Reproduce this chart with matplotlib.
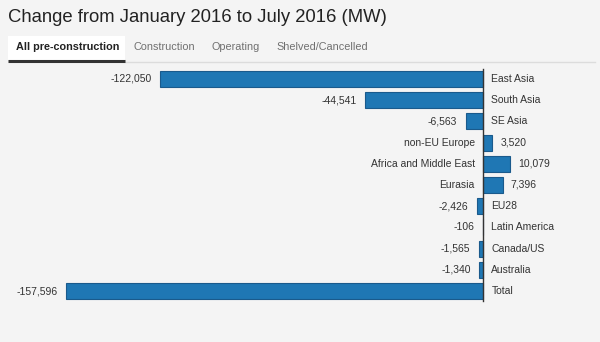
import matplotlib
matplotlib.use("Agg")
import matplotlib.pyplot as plt
from matplotlib.patches import Rectangle

categories = ["East Asia", "South Asia", "SE Asia", "non-EU Europe",
              "Africa and Middle East", "Eurasia", "EU28", "Latin America",
              "Canada/US", "Australia", "Total"]
values = [-122050, -44541, -6563, 3520, 10079, 7396, -2426, -106, -1565, -1340, -157596]
title = "Change from January 2016 to July 2016 (MW)"
tabs = ["All pre-construction", "Construction", "Operating", "Shelved/Cancelled"]

W, H = 600, 342
BG = "#f4f4f4"
fig = plt.figure(figsize=(W / 100, H / 100), dpi=100, facecolor=BG)
plt.rcParams['font.family'] = ['Liberation Sans', 'DejaVu Sans']

# layout in pixels
zero_px = 483
min_px = 66
first_y = 79
step = 21.2

ax = fig.add_axes([0, 0, 1, 1])
ax.set_facecolor("none")
vmin = min(values)
scale = (zero_px - min_px) / abs(vmin)  # px per unit
ax.set_xlim(-zero_px / scale, (W - zero_px) / scale)
ax.set_ylim((H - first_y) / step, -first_y / step)
ax.axis("off")

ypos = list(range(len(categories)))
ax.barh(ypos, values, height=0.76, color="#1f77b4", edgecolor="#1a5a8c", linewidth=0.8, zorder=2)
ax.plot([0, 0], [-0.45, len(categories) - 1 + 0.45], color="#333333", lw=1, zorder=3)

fs = 7.5
tc = "#333333"
for y, cat, v in zip(ypos, categories, values):
    lab = f"{v:,}"
    if v < 0:
        ax.annotate(lab, (v, y), xytext=(-6, 0), textcoords="offset points",
                    ha="right", va="center", fontsize=fs, color=tc)
        ax.annotate(cat, (0, y), xytext=(6, 0), textcoords="offset points",
                    ha="left", va="center", fontsize=fs, color=tc)
    else:
        ax.annotate(cat, (0, y), xytext=(-6, 0), textcoords="offset points",
                    ha="right", va="center", fontsize=fs, color=tc)
        ax.annotate(lab, (v, y), xytext=(6, 0), textcoords="offset points",
                    ha="left", va="center", fontsize=fs, color=tc)

def fx(px):
    return px / W

def fy(py):
    return 1 - py / H

# title
fig.text(fx(8), fy(21.5), title, fontsize=13.35, color="#222222", ha="left", va="baseline")

# tabs
fig.patches.append(Rectangle((fx(8), fy(60)), fx(117), 24 / H, transform=fig.transFigure,
                             facecolor="white", edgecolor="none", zorder=0))
fig.add_artist(plt.Line2D([fx(125), fx(595)], [fy(62), fy(62)], color="#dcdcdc", lw=1,
                          transform=fig.transFigure))
fig.add_artist(plt.Line2D([fx(8), fx(125)], [fy(60.5), fy(60.5)], color="#333333", lw=2.2,
                          transform=fig.transFigure, solid_capstyle="butt"))
tab_x = [16, 134, 212, 276]
for i, (t, x) in enumerate(zip(tabs, tab_x)):
    fig.text(fx(x), fy(47), t, fontsize=7.8, ha="left", va="center",
             color="#222222" if i == 0 else "#707070",
             fontweight="bold" if i == 0 else "normal")

fig.savefig("out.png", dpi=100, facecolor=BG)
